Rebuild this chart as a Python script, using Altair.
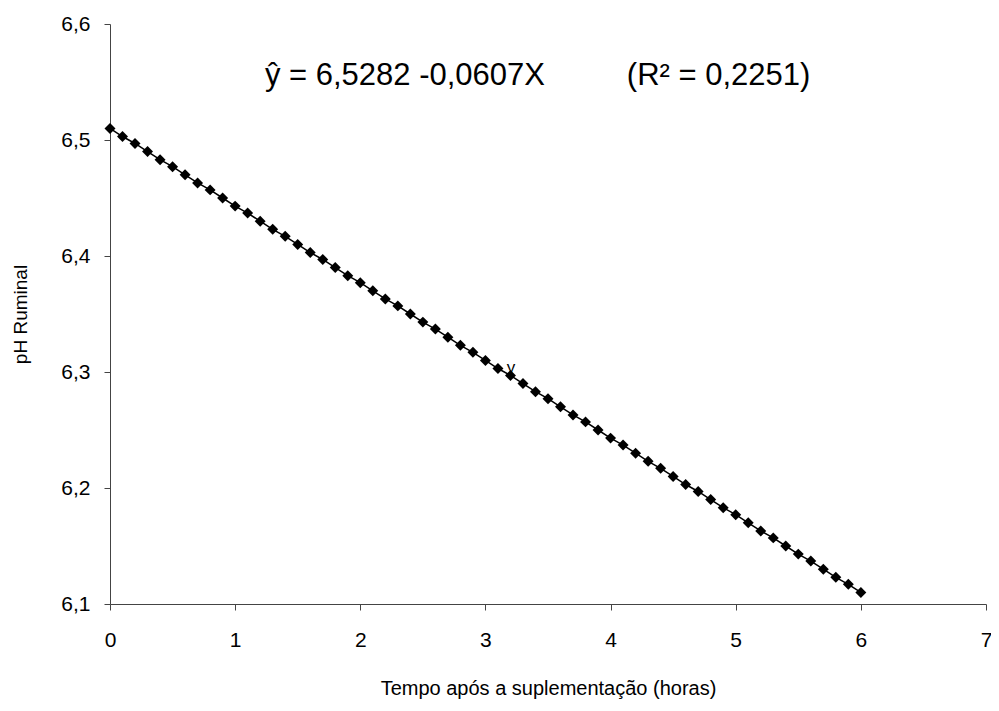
import altair as alt
import pandas as pd

# Hours after supplementation
hours = [0.0, 0.1, 0.2, 0.3, 0.4, 0.5, 0.6, 0.7, 0.8, 0.9,
         1.0, 1.1, 1.2, 1.3, 1.4, 1.5, 1.6, 1.7, 1.8, 1.9,
         2.0, 2.1, 2.2, 2.3, 2.4, 2.5, 2.6, 2.7, 2.8, 2.9,
         3.0, 3.1, 3.2, 3.3, 3.4, 3.5, 3.6, 3.7, 3.8, 3.9,
         4.0, 4.1, 4.2, 4.3, 4.4, 4.5, 4.6, 4.7, 4.8, 4.9,
         5.0, 5.1, 5.2, 5.3, 5.4, 5.5, 5.6, 5.7, 5.8, 5.9, 6.0]
# Ruminal pH
ph = [6.510, 6.503, 6.497, 6.490, 6.483, 6.477, 6.470, 6.463, 6.457, 6.450,
      6.443, 6.437, 6.430, 6.423, 6.417, 6.410, 6.403, 6.397, 6.390, 6.383,
      6.377, 6.370, 6.363, 6.357, 6.350, 6.343, 6.337, 6.330, 6.323, 6.317,
      6.310, 6.303, 6.297, 6.290, 6.283, 6.277, 6.270, 6.263, 6.257, 6.250,
      6.243, 6.237, 6.230, 6.223, 6.217, 6.210, 6.203, 6.197, 6.190, 6.183,
      6.177, 6.170, 6.163, 6.157, 6.150, 6.143, 6.137, 6.130, 6.123, 6.117, 6.110]

x_ticks = [0, 1, 2, 3, 4, 5, 6, 7]
y_ticks = [6.1, 6.2, 6.3, 6.4, 6.5, 6.6]

ann_text = ["ŷ = 6,5282 -0,0607X", "(R² = 0,2251)", "y"]
ann_x = [1.238, 4.13, 3.17]
ann_y = [6.547, 6.547, 6.299]
ann_size = [31, 31, 17]

FONT = "Liberation Sans"

df = pd.DataFrame({"h": hours, "ph": ph})
ann = pd.DataFrame({"t": ann_text, "x": ann_x, "y": ann_y, "s": ann_size})

xscale = alt.Scale(domain=[0, 7], nice=False, zero=False)
yscale = alt.Scale(domain=[6.1, 6.6], nice=False, zero=False)

xaxis = alt.Axis(values=x_ticks, grid=False, title="Tempo após a suplementação (horas)",
                 labelExpr="format(datum.value, 'd')", labelFontSize=21, titleFontSize=20,
                 titleFontWeight="normal", labelFont=FONT, titleFont=FONT,
                 domainColor="#444", tickColor="#444", tickSize=6, labelPadding=19,
                 titlePadding=28, labelColor="black", titleColor="black",
                 labelFlush=False)
yaxis = alt.Axis(values=y_ticks, grid=False, title="pH Ruminal",
                 labelExpr="replace(format(datum.value, '.1f'), '.', ',')",
                 labelFontSize=21, titleFontSize=19, titleFontWeight="normal",
                 labelFont=FONT, titleFont=FONT, domainColor="#444", tickColor="#444",
                 tickSize=6, labelPadding=14, titlePadding=30,
                 labelColor="black", titleColor="black", labelFlush=False)

base = alt.Chart(df).encode(
    x=alt.X("h:Q", scale=xscale, axis=xaxis),
    y=alt.Y("ph:Q", scale=yscale, axis=yaxis),
)
line = base.mark_line(color="black", strokeWidth=1.5)
pts = base.mark_point(shape="diamond", filled=True, color="black", size=120, opacity=1)

text = alt.Chart(ann).mark_text(align="left", baseline="alphabetic", font=FONT,
                                color="black").encode(
    x=alt.X("x:Q", scale=xscale),
    y=alt.Y("y:Q", scale=yscale),
    text="t:N",
    size=alt.Size("s:Q", scale=None, legend=None),
)

chart = (line + pts + text).properties(
    width=876, height=580,
    autosize=alt.AutoSizeParams(type="none"),
    padding={"left": 102, "top": 16, "right": 5, "bottom": 96},
).configure_view(stroke=None)

chart.save("out.html", embed_options={"renderer": "svg", "actions": False})
